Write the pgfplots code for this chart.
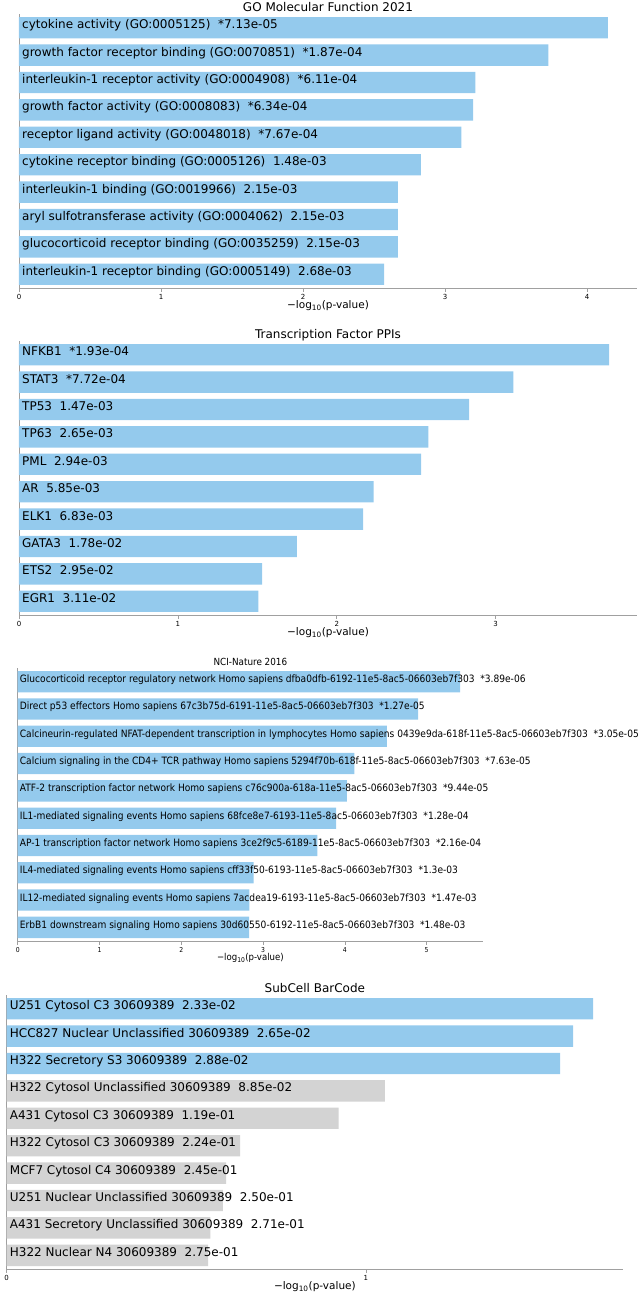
\documentclass[border=0pt]{standalone}
\usepackage{pgfplots}
\pgfplotsset{compat=1.18}
\usepackage{fontspec}
\setmainfont{DejaVu Sans}
\newfontfamily\condensed{DejaVu Sans Condensed}
\definecolor{barblue}{RGB}{148,202,237}
\definecolor{bargray}{RGB}{211,211,211}
\definecolor{spine}{RGB}{160,160,160}
\newcommand\lab{−log\textsubscript{10}(p-value)}
\pgfplotsset{
  enr/.style={
    scale only axis,
    clip=false,
    axis x line*=bottom,
    axis y line*=left,
    axis line style={-, spine, line width=0.8pt},
    ymin=-0.5, ymax=9.5,
    ytick=\empty,
    xmin=0,
    tick align=outside,
    major tick length=3.5pt,
    x tick style={spine, line width=0.6pt},
    /pgf/number format/assume math mode=true,
    xticklabel style={font=\fontsize{7}{8}\selectfont, text=black, inner sep=1pt, yshift=-1.5pt},
    xlabel={\lab},
    xlabel style={at={(axis description cs:0.5,0)}, anchor=base, yshift=-20.5pt, font=\fontsize{10.5}{12}\selectfont},
    title style={at={(axis description cs:0.5,1)}, anchor=base, yshift=-3.5pt, font=\fontsize{12}{14}\selectfont},
  },
}
\tikzset{
  barlab/.style={anchor=base west, xshift=3pt, yshift=-1pt, inner sep=0pt, font=\fontsize{12}{14}\selectfont},
  nciLab/.style={anchor=base west, xshift=2pt, yshift=-1pt, inner sep=0pt, font=\condensed\fontsize{10.1}{12}\selectfont},
}
\pgfplotstableread{
y v
9 4.1469
8 3.7282
7 3.2140
6 3.1979
5 3.1152
4 2.8297
3 2.6676
2 2.6676
1 2.6676
0 2.5719
}\go
\pgfplotstableread{
y v
9 3.7144
8 3.1124
7 2.8327
6 2.5768
5 2.5317
4 2.2328
3 2.1656
2 1.7496
1 1.5302
0 1.5072
}\tf
\pgfplotstableread{
y v
9 5.4101
8 4.8962
7 4.5157
6 4.1175
5 4.0250
4 3.8928
3 3.6655
2 2.8861
1 2.8327
0 2.8297
}\nci
\pgfplotstableread{
y v
9 1.6326
8 1.5768
7 1.5406
}\scsig
\pgfplotstableread{
y v
6 1.0531
5 0.9245
4 0.6498
3 0.6108
2 0.6021
1 0.5670
0 0.5607
}\scns
\begin{document}
\begin{tikzpicture}
\useasboundingbox (0pt,0pt) rectangle (641pt,-1296pt);
% Panel 1
\begin{axis}[enr, at={(19pt,-288pt)}, anchor=south west, width=618pt, height=274pt,
  xmax=4.352, xtick={0,1,2,3,4}, title={GO Molecular Function 2021}]
\addplot[xbar, bar width=0.78, bar shift=0pt, fill=barblue, draw=none] table[x=v,y=y]{\go};
\node[barlab] at (axis cs:0,9) {cytokine activity (GO:0005125)~~*7.13e-05};
\node[barlab] at (axis cs:0,8) {growth factor receptor binding (GO:0070851)~~*1.87e-04};
\node[barlab] at (axis cs:0,7) {interleukin-1 receptor activity (GO:0004908)~~*6.11e-04};
\node[barlab] at (axis cs:0,6) {growth factor activity (GO:0008083)~~*6.34e-04};
\node[barlab] at (axis cs:0,5) {receptor ligand activity (GO:0048018)~~*7.67e-04};
\node[barlab] at (axis cs:0,4) {cytokine receptor binding (GO:0005126)~~1.48e-03};
\node[barlab] at (axis cs:0,3) {interleukin-1 binding (GO:0019966)~~2.15e-03};
\node[barlab] at (axis cs:0,2) {aryl sulfotransferase activity (GO:0004062)~~2.15e-03};
\node[barlab] at (axis cs:0,1) {glucocorticoid receptor binding (GO:0035259)~~2.15e-03};
\node[barlab] at (axis cs:0,0) {interleukin-1 receptor binding (GO:0005149)~~2.68e-03};
\end{axis}
% Panel 2
\begin{axis}[enr, at={(19pt,-615pt)}, anchor=south west, width=618pt, height=274pt,
  xmax=3.89, xtick={0,1,2,3}, title={Transcription Factor PPIs}]
\addplot[xbar, bar width=0.78, bar shift=0pt, fill=barblue, draw=none] table[x=v,y=y]{\tf};
\node[barlab] at (axis cs:0,9) {NFKB1~~*1.93e-04};
\node[barlab] at (axis cs:0,8) {STAT3~~*7.72e-04};
\node[barlab] at (axis cs:0,7) {TP53~~1.47e-03};
\node[barlab] at (axis cs:0,6) {TP63~~2.65e-03};
\node[barlab] at (axis cs:0,5) {PML~~2.94e-03};
\node[barlab] at (axis cs:0,4) {AR~~5.85e-03};
\node[barlab] at (axis cs:0,3) {ELK1~~6.83e-03};
\node[barlab] at (axis cs:0,2) {GATA3~~1.78e-02};
\node[barlab] at (axis cs:0,1) {ETS2~~2.95e-02};
\node[barlab] at (axis cs:0,0) {EGR1~~3.11e-02};
\end{axis}
% Panel 3
\begin{axis}[enr, at={(17.7pt,-941pt)}, anchor=south west, width=465.3pt, height=273pt,
  xmax=5.69, xtick={0,1,2,3,4,5}, title={NCI-Nature 2016},
  title style={font=\condensed\fontsize{9.8}{11}\selectfont},
  xlabel style={font=\condensed\fontsize{9.5}{11}\selectfont, yshift=1pt},
  xticklabel style={font=\condensed\fontsize{6.8}{8}\selectfont}]
\addplot[xbar, bar width=0.78, bar shift=0pt, fill=barblue, draw=none] table[x=v,y=y]{\nci};
\node[nciLab] at (axis cs:0,9) {Glucocorticoid receptor regulatory network Homo sapiens dfba0dfb-6192-11e5-8ac5-06603eb7f303~~*3.89e-06};
\node[nciLab] at (axis cs:0,8) {Direct p53 effectors Homo sapiens 67c3b75d-6191-11e5-8ac5-06603eb7f303~~*1.27e-05};
\node[nciLab] at (axis cs:0,7) {Calcineurin-regulated NFAT-dependent transcription in lymphocytes Homo sapiens 0439e9da-618f-11e5-8ac5-06603eb7f303~~*3.05e-05};
\node[nciLab] at (axis cs:0,6) {Calcium signaling in the CD4+ TCR pathway Homo sapiens 5294f70b-618f-11e5-8ac5-06603eb7f303~~*7.63e-05};
\node[nciLab] at (axis cs:0,5) {ATF-2 transcription factor network Homo sapiens c76c900a-618a-11e5-8ac5-06603eb7f303~~*9.44e-05};
\node[nciLab] at (axis cs:0,4) {IL1-mediated signaling events Homo sapiens 68fce8e7-6193-11e5-8ac5-06603eb7f303~~*1.28e-04};
\node[nciLab] at (axis cs:0,3) {AP-1 transcription factor network Homo sapiens 3ce2f9c5-6189-11e5-8ac5-06603eb7f303~~*2.16e-04};
\node[nciLab] at (axis cs:0,2) {IL4-mediated signaling events Homo sapiens cff33f50-6193-11e5-8ac5-06603eb7f303~~*1.3e-03};
\node[nciLab] at (axis cs:0,1) {IL12-mediated signaling events Homo sapiens 7acdea19-6193-11e5-8ac5-06603eb7f303~~*1.47e-03};
\node[nciLab] at (axis cs:0,0) {ErbB1 downstream signaling Homo sapiens 30d60550-6192-11e5-8ac5-06603eb7f303~~*1.48e-03};
\end{axis}
% Panel 4
\begin{axis}[enr, at={(6.7pt,-1269pt)}, anchor=south west, width=616.3pt, height=274pt,
  xmax=1.716, xtick={0,1}, title={SubCell BarCode}]
\addplot[xbar, bar width=0.78, bar shift=0pt, fill=barblue, draw=none] table[x=v,y=y]{\scsig};
\addplot[xbar, bar width=0.78, bar shift=0pt, fill=bargray, draw=none] table[x=v,y=y]{\scns};
\node[barlab] at (axis cs:0,9) {U251 Cytosol C3 30609389~~2.33e-02};
\node[barlab] at (axis cs:0,8) {HCC827 Nuclear Unclassified 30609389~~2.65e-02};
\node[barlab] at (axis cs:0,7) {H322 Secretory S3 30609389~~2.88e-02};
\node[barlab] at (axis cs:0,6) {H322 Cytosol Unclassified 30609389~~8.85e-02};
\node[barlab] at (axis cs:0,5) {A431 Cytosol C3 30609389~~1.19e-01};
\node[barlab] at (axis cs:0,4) {H322 Cytosol C3 30609389~~2.24e-01};
\node[barlab] at (axis cs:0,3) {MCF7 Cytosol C4 30609389~~2.45e-01};
\node[barlab] at (axis cs:0,2) {U251 Nuclear Unclassified 30609389~~2.50e-01};
\node[barlab] at (axis cs:0,1) {A431 Secretory Unclassified 30609389~~2.71e-01};
\node[barlab] at (axis cs:0,0) {H322 Nuclear N4 30609389~~2.75e-01};
\end{axis}
\end{tikzpicture}
\end{document}
